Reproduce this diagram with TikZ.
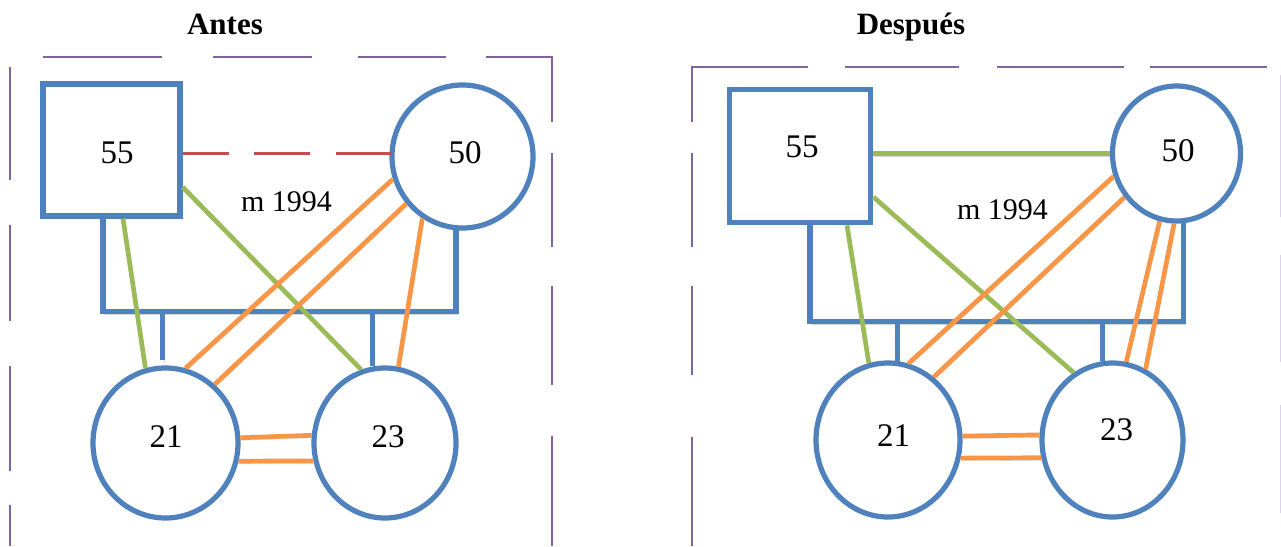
\documentclass[tikz,border=0pt]{standalone}
\usepackage{fontspec}
\setmainfont{Liberation Serif}
\usetikzlibrary{shapes.geometric,calc}
\definecolor{pblue}{HTML}{4F81BD}
\definecolor{pgreen}{HTML}{9BBB59}
\definecolor{porange}{HTML}{F79646}
\definecolor{ppurple}{HTML}{8064A2}
\definecolor{pred}{HTML}{C0504D}
\definecolor{plav}{HTML}{DCD2EA}
\tikzset{
  person/.style={draw=pblue, line width=5.2pt, inner sep=0pt, fill=white},
  femb/.style={person, ellipse},
  malebox/.style={person, rectangle},
  num/.style={font=\fontsize{33}{38}\selectfont},
  ttl/.style={font=\fontsize{31}{36}\selectfont\bfseries, anchor=base},
  yr/.style={font=\fontsize{30}{34}\selectfont},
  shad/.style={preaction={draw=black, opacity=0.15, transform canvas={shift={(1pt,-2.5pt)}}}},
  kin/.style={draw=pblue, line width=5.2pt, shad},
  grn/.style={draw=pgreen, line width=4.7pt, shad},
  org/.style={draw=porange, line width=4.7pt, shad},
  framel/.style={draw=ppurple, line width=2pt},
  framef/.style={draw=plav, line width=2pt},
  rdash/.style={draw=pred, line width=2.6pt, dash pattern=on 56pt off 25.5pt, dash phase=10pt},
}
\begin{document}
\begin{tikzpicture}[x=1pt,y=-1pt]
\useasboundingbox (0,0) rectangle (1281,546);

% ---------- frames ----------
\draw[framel] (10,67)--(10,180) (10,225)--(10,321) (10,366)--(10,471) (10,505)--(10,546);
\draw[framel] (43,56.5)--(162,56.5) (213,56.5)--(312,56.5) (358,56.5)--(446,56.5)
  (486,56.5)--(552,56.5)--(552,122) (552,153)--(552,247) (552,286)--(552,385) (552,436)--(552,546);
\draw[framel] (692,122)--(692,67)--(808,67) (845,67)--(959,67) (997,67)--(1124,67) (1150,67)--(1267,67);
\draw[framel] (692,153)--(692,247) (692,286)--(692,375) (692,437)--(692,546);
\draw[framef] (1280.5,75)--(1280.5,217) (1280.5,255)--(1280.5,362) (1280.5,405)--(1280.5,513);

% ---------- titles ----------
\node[ttl] (tA) at (225,34) {Antes};
\node[ttl] (tB) at (911,34) {Después};

% ---------- left: people ----------
\node[malebox, minimum width=137pt, minimum height=132pt] (sqA) at (111.5,150) {};
\node[femb, minimum width=141pt, minimum height=143pt] (c50A) at (462.5,156.5) {};
\node[femb, minimum width=145pt, minimum height=150pt] (c21A) at (165.5,443) {};
\node[femb, minimum width=142pt, minimum height=150pt] (c23A) at (385,443) {};

% ---------- right: people ----------
\node[malebox, minimum width=141.5pt, minimum height=133.5pt] (sqB) at (800,156) {};
\node[femb, minimum width=128pt, minimum height=135pt] (c50B) at (1176.5,153.5) {};
\node[femb, minimum width=144pt, minimum height=154pt] (c21B) at (888,440) {};
\node[femb, minimum width=141pt, minimum height=154pt] (c23B) at (1112.5,440) {};

% ---------- left: connectors ----------
\coordinate (yA) at (0,153.5);
\coordinate (barA) at (0,311.5);
\coordinate (kA1) at ($(sqA.south)+(-8.5,0)$);
\draw[kin] (kA1) -- (kA1 |- barA) -- (c50A.265 |- barA) -- (c50A.265);
\draw[kin, shorten >=5pt] (c21A.92 |- barA) -- (c21A.92);
\draw[kin] (c23A.99 |- barA) -- (c23A.99);

\draw[rdash, shorten >=-4pt] (sqA.east |- yA) -- (c50A.west |- yA);
\draw[grn] ($(sqA.east)+(0,37)$) -- (c23A.108);
\draw[grn] ($(sqA.south)+(11.5,0)$) -- (c21A.105);
\draw[org] (c50A.198) -- (c21A.75);
\draw[org] (c50A.220) -- (c21A.50);
\draw[org] (c50A.237) -- (c23A.80);
\draw[org] (c21A.4.6) -- (c23A.174.5);
\draw[org] (c21A.346) -- (c23A.194);

% ---------- right: connectors ----------
\coordinate (barB) at (0,321.5);
\coordinate (kB1) at ($(sqB.south)+(10,0)$);
\draw[kin] (kB1) -- (kB1 |- barB) -- (c50B.276 |- barB) -- (c50B.276);
\draw[kin] (c21B.83 |- barB) -- (c21B.83);
\draw[kin] (c23B.97 |- barB) -- (c23B.97);

\draw[grn] (sqB.east |- c50B.west) -- (c50B.west);
\draw[grn] ($(sqB.east)+(0,41)$) -- (c23B.120.6);
\draw[grn] ($(sqB.south)+(47,0)$) -- (c21B.104);
\draw[org] (c50B.200) -- (c21B.75);
\draw[org] (c50B.220) -- (c21B.54);
\draw[org] (c50B.256) -- (c23B.80.5);
\draw[org] (c50B.268) -- (c23B.65.6);
\draw[org] (c21B.3) -- (c23B.176.8);
\draw[org] (c21B.346) -- (c23B.194.7);

% ---------- texts ----------
\node[num] (n55A) at (117,153) {55};
\node[num] (n50A) at (465,153) {50};
\node[num] (n21A) at (166,437) {21};
\node[num] (n23A) at (388,437) {23};
\node[yr] (mA) at (286.5,201.5) {m 1994};

\node[num] (n55B) at (802,147) {55};
\node[num] (n50B) at (1178,151) {50};
\node[num] (n21B) at (893.5,436) {21};
\node[num] (n23B) at (1116.5,430) {23};
\node[yr] (mB) at (1002.5,210) {m 1994};
\end{tikzpicture}
\end{document}
